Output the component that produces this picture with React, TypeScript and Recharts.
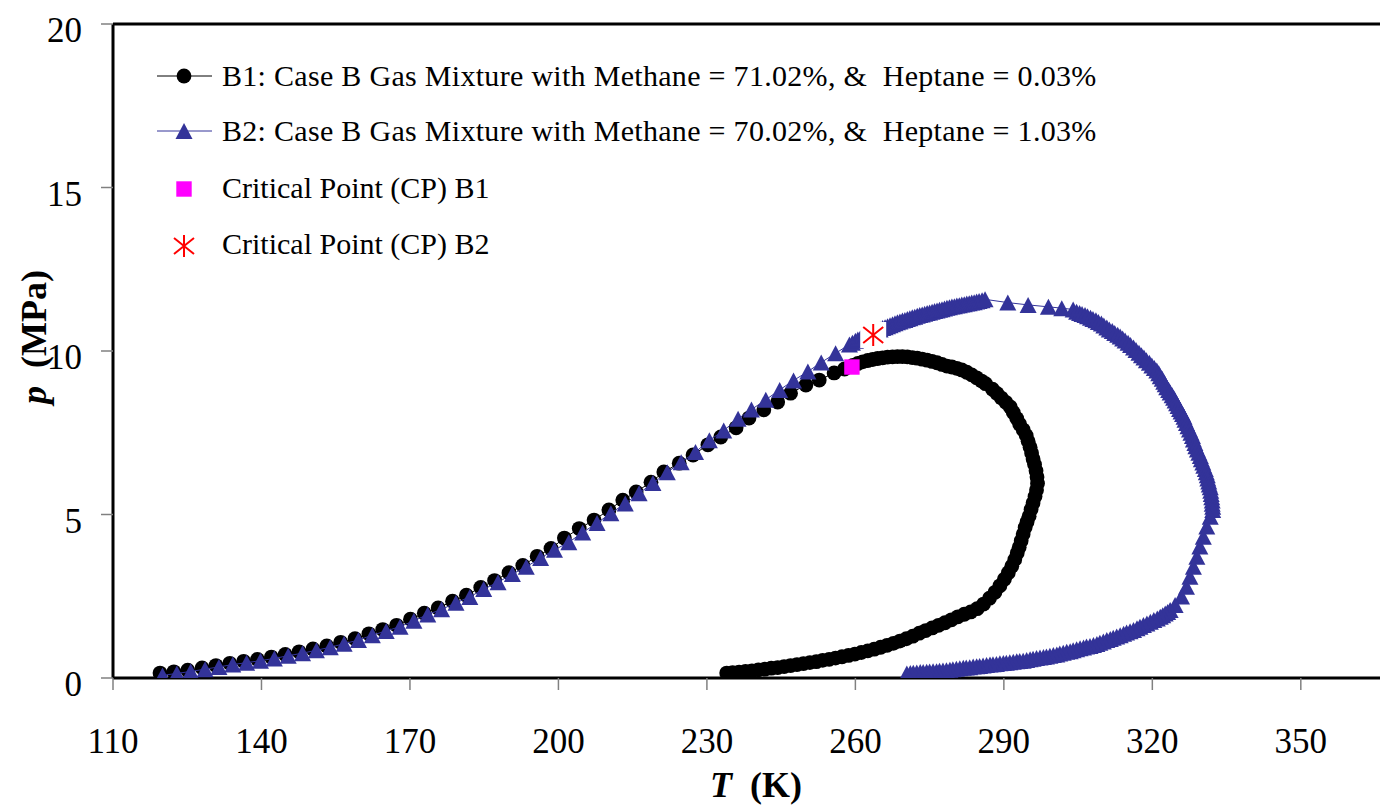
import React from 'react';
import { ScatterChart, Scatter, XAxis, YAxis, ReferenceLine } from 'recharts';

const xTicks = [110, 140, 170, 200, 230, 260, 290, 320, 350];
const yTicks = [0, 5, 10, 15, 20];

// B1: Case B Gas Mixture, Methane = 71.02 %, Heptane = 0.03 %
const b1T = [
  119.5, 122.3, 125.1, 128.0, 130.8, 133.6, 136.4, 139.2, 142.0, 144.8,
  147.6, 150.4, 153.2, 156.0, 158.9, 161.7, 164.5, 167.3, 170.1, 172.9,
  175.7, 178.6, 181.4, 184.3, 187.1, 190.0, 192.8, 195.7, 198.5, 201.2,
  204.2, 207.2, 210.2, 213.0, 215.7, 218.7, 221.3, 224.4, 227.2, 230.2,
  232.8, 235.9, 238.5, 241.5, 244.3, 246.9, 250.0, 252.7, 255.7, 257.8,
  259.5, 260.5, 261.5, 262.5, 263.5, 264.5, 265.5, 266.5, 267.5, 268.5,
  269.5, 270.5, 271.5, 272.5, 273.5, 274.5, 275.5, 276.5, 277.5, 278.5,
  279.5, 280.5, 281.5, 282.5, 283.5, 284.5, 285.5, 286.3, 287.7, 288.6,
  289.5, 290.4, 291.3, 291.9, 292.6, 293.2, 293.9, 294.5, 294.9, 295.3,
  295.6, 295.9, 296.2, 296.5, 296.7, 296.8, 296.6, 296.3, 295.9, 295.5,
  295.1, 294.7, 294.3, 293.9, 293.5, 293.1, 292.7, 292.2, 291.6, 290.9,
  290.1, 289.2, 288.2, 287.1, 285.9, 284.6, 283.3, 282.0, 280.7, 279.4,
  278.1, 276.8, 275.5, 274.2, 272.9, 271.6, 270.3, 269.0, 267.7, 266.4,
  265.1, 263.8, 262.5, 261.2, 259.9, 258.6, 257.3, 256.0, 254.7, 253.4,
  252.1, 250.8, 249.5, 248.2, 246.9, 245.6, 244.3, 243.0, 241.7, 240.4,
  239.1, 237.8, 236.5, 235.2, 234.0,
];
const b1P = [
  0.15, 0.19, 0.24, 0.31, 0.38, 0.45, 0.51, 0.57, 0.64, 0.72,
  0.80, 0.89, 0.98, 1.09, 1.20, 1.35, 1.48, 1.61, 1.80, 1.98,
  2.14, 2.35, 2.53, 2.77, 2.98, 3.22, 3.44, 3.72, 3.96, 4.28,
  4.57, 4.83, 5.14, 5.44, 5.69, 5.99, 6.30, 6.57, 6.82, 7.13,
  7.37, 7.65, 7.95, 8.20, 8.44, 8.71, 8.96, 9.11, 9.33, 9.45,
  9.56, 9.62, 9.67, 9.71, 9.74, 9.77, 9.79, 9.81, 9.82, 9.83,
  9.83, 9.82, 9.80, 9.78, 9.75, 9.72, 9.68, 9.64, 9.59, 9.54,
  9.51, 9.47, 9.42, 9.35, 9.27, 9.18, 9.08, 9.00, 8.83, 8.70,
  8.56, 8.43, 8.29, 8.12, 7.94, 7.76, 7.59, 7.42, 7.24, 7.06,
  6.88, 6.70, 6.53, 6.34, 6.15, 5.95, 5.75, 5.55, 5.35, 5.15,
  4.95, 4.78, 4.60, 4.40, 4.20, 4.00, 3.82, 3.62, 3.42, 3.22,
  3.02, 2.82, 2.62, 2.44, 2.26, 2.12, 2.02, 1.95, 1.87, 1.78,
  1.69, 1.61, 1.53, 1.45, 1.37, 1.28, 1.20, 1.13, 1.06, 1.00,
  0.94, 0.88, 0.83, 0.78, 0.73, 0.69, 0.65, 0.61, 0.57, 0.54,
  0.50, 0.47, 0.44, 0.41, 0.38, 0.35, 0.32, 0.30, 0.27, 0.25,
  0.22, 0.20, 0.18, 0.16, 0.15,
];

// B2: Case B Gas Mixture, Methane = 70.02 %, Heptane = 1.03 %
const b2T = [
  // bubble side
  120.0, 122.9, 125.7, 128.6, 131.4, 134.2, 137.0, 139.8, 142.6, 145.4,
  148.3, 151.1, 153.9, 156.7, 159.6, 162.4, 165.2, 168.0, 170.8, 173.6,
  176.4, 179.3, 182.1, 184.9, 187.8, 190.7, 193.5, 196.4, 199.2, 202.1,
  204.9, 207.8, 210.6, 213.5, 216.3, 219.1, 222.0, 224.8, 227.7, 230.5,
  233.4, 236.3, 239.0, 241.9, 244.7, 247.5, 250.4, 253.1, 256.0, 258.8,
  // top band
  259.4, 260.0, 260.5, 261.0, 261.5, 262.0, 262.5, 263.0, 263.5, 264.0,
  264.5, 265.0, 265.5, 266.0, 266.5, 267.0, 267.5, 268.0, 268.5, 269.0,
  269.5, 270.0, 270.5, 271.0, 271.5, 272.0, 272.5, 273.0, 273.5, 274.0,
  274.5, 275.0, 275.5, 276.0, 276.5, 277.0, 277.5, 278.0, 278.5, 279.0,
  279.5, 280.0, 280.5, 281.0, 281.5, 282.0, 282.5, 283.0, 283.5, 284.0,
  284.5, 285.0, 285.6, 286.2,
  // sparse top
  290.8, 294.9, 299.0, 301.7, 304.0,
  // right arc
  304.7, 305.3, 305.8, 306.4, 306.9, 307.5, 308.0, 308.6, 309.1, 309.7,
  310.2, 310.8, 311.3, 311.9, 312.4, 313.0, 313.5, 314.0, 314.5, 315.1,
  315.6, 316.2, 316.7, 317.3, 317.8, 318.3, 318.8, 319.4, 319.9, 320.4,
  320.9, 321.3, 321.6, 322.0, 322.3, 322.6, 322.9, 323.3, 323.6, 324.0,
  324.3, 324.6, 324.9, 325.2, 325.5, 325.8, 326.1, 326.4, 326.6, 326.9,
  327.2, 327.5, 327.8, 328.1, 328.3, 328.6, 328.8, 329.1, 329.4, 329.7,
  329.9, 330.2, 330.4, 330.7, 330.9, 331.1, 331.2, 331.4, 331.5, 331.7,
  331.8, 331.9, 332.0, 332.1, 332.1, 332.2, 332.2,
  // lower right, sparse
  331.7, 331.0, 330.3, 329.6, 329.0, 328.3, 327.6, 326.9, 325.9, 324.6,
  // bottom band
  323.6, 323.1, 322.6, 322.1, 321.6, 321.0, 320.3, 319.6, 318.9, 318.2,
  317.5, 316.9, 316.2, 315.5, 314.8, 314.2, 313.5, 312.8, 312.1, 311.5,
  310.8, 310.1, 309.4, 308.8, 308.1, 307.4, 306.7, 306.1, 305.4, 304.7,
  304.0, 303.4, 302.7, 302.0, 301.3, 300.7, 300.0, 299.3, 298.6, 298.0,
  297.3, 296.6, 295.9, 295.3, 294.6, 293.9, 293.2, 292.6, 291.9, 291.2,
  290.5, 289.9, 289.2, 288.5, 287.8, 287.2, 286.5, 285.8, 285.1, 284.5,
  283.8, 283.1, 282.4, 281.8, 281.1, 280.4, 279.7, 279.1, 278.4, 277.7,
  277.0, 276.4, 275.7, 275.0, 274.4, 273.7, 273.1, 272.4, 271.7, 271.1,
  270.4,
];
const b2P = [
  // bubble side
  0.08, 0.14, 0.20, 0.27, 0.34, 0.41, 0.47, 0.53, 0.60, 0.68,
  0.76, 0.85, 0.94, 1.05, 1.16, 1.31, 1.44, 1.57, 1.75, 1.94,
  2.10, 2.30, 2.48, 2.72, 2.93, 3.18, 3.40, 3.67, 3.92, 4.15,
  4.45, 4.74, 5.04, 5.34, 5.65, 5.96, 6.29, 6.60, 6.91, 7.27,
  7.57, 7.93, 8.21, 8.51, 8.81, 9.10, 9.37, 9.65, 9.93, 10.20,
  // top band
  10.25, 10.31, 10.35, 10.39, 10.43, 10.46, 10.50, 10.53, 10.57, 10.60,
  10.63, 10.66, 10.70, 10.73, 10.76, 10.79, 10.82, 10.85, 10.88, 10.90,
  10.93, 10.95, 10.98, 11.00, 11.03, 11.05, 11.08, 11.10, 11.12, 11.14,
  11.16, 11.18, 11.20, 11.22, 11.24, 11.26, 11.28, 11.30, 11.32, 11.34,
  11.36, 11.37, 11.39, 11.40, 11.42, 11.43, 11.45, 11.46, 11.48, 11.49,
  11.51, 11.53, 11.55, 11.58,
  // sparse top
  11.48, 11.41, 11.35, 11.31, 11.27,
  // right arc
  11.20, 11.16, 11.13, 11.10, 11.06, 11.02, 10.98, 10.94, 10.89, 10.84,
  10.78, 10.72, 10.66, 10.61, 10.55, 10.50, 10.44, 10.38, 10.32, 10.25,
  10.18, 10.11, 10.03, 9.95, 9.87, 9.80, 9.72, 9.64, 9.56, 9.48,
  9.40, 9.32, 9.23, 9.15, 9.06, 8.98, 8.89, 8.81, 8.73, 8.65,
  8.57, 8.49, 8.40, 8.32, 8.23, 8.15, 8.07, 7.99, 7.90, 7.80,
  7.70, 7.60, 7.50, 7.40, 7.29, 7.19, 7.09, 6.99, 6.89, 6.79,
  6.69, 6.59, 6.49, 6.39, 6.29, 6.20, 6.10, 6.01, 5.92, 5.83,
  5.73, 5.63, 5.53, 5.43, 5.33, 5.24, 5.14,
  // lower right, sparse
  4.93, 4.63, 4.32, 4.02, 3.71, 3.40, 3.10, 2.79, 2.49, 2.23,
  // bottom band
  2.08, 2.02, 1.97, 1.92, 1.87, 1.82, 1.77, 1.72, 1.67, 1.62,
  1.57, 1.52, 1.47, 1.43, 1.39, 1.35, 1.31, 1.27, 1.23, 1.19,
  1.16, 1.12, 1.08, 1.04, 1.01, 0.98, 0.96, 0.93, 0.91, 0.88,
  0.85, 0.82, 0.80, 0.77, 0.75, 0.72, 0.70, 0.68, 0.66, 0.64,
  0.63, 0.61, 0.59, 0.57, 0.55, 0.53, 0.52, 0.51, 0.50, 0.48,
  0.47, 0.46, 0.45, 0.43, 0.42, 0.41, 0.40, 0.38, 0.37, 0.36,
  0.35, 0.33, 0.32, 0.31, 0.30, 0.28, 0.27, 0.25, 0.24, 0.23,
  0.22, 0.21, 0.21, 0.20, 0.19, 0.18, 0.18, 0.17, 0.16, 0.15,
  0.14,
];

const cpB1T = [259.3];
const cpB1P = [9.51];
const cpB2T = [263.6];
const cpB2P = [10.49];

const legendLabels = [
  'B1: Case B Gas Mixture with Methane = 71.02%, &  Heptane = 0.03%',
  'B2: Case B Gas Mixture with Methane = 70.02%, &  Heptane = 1.03%',
  'Critical Point (CP) B1',
  'Critical Point (CP) B2',
];

const BLUE = '#333399';
const FONT = '"Liberation Serif", "Times New Roman", serif';

const zip = (t: number[], p: number[]) => t.map((T, i) => ({ T, p: p[i] }));
const b1Data = zip(b1T, b1P);
const b2Data = zip(b2T, b2P);
const cpB1Data = zip(cpB1T, cpB1P);
const cpB2Data = zip(cpB2T, cpB2P);

const circlePath = (cx: number, cy: number) => <circle cx={cx} cy={cy} r={7.4} fill="#000" />;
const triPath = (cx: number, cy: number) => (
  <path d={`M${cx},${cy - 8}L${cx + 8.5},${cy + 8}L${cx - 8.5},${cy + 8}Z`} fill={BLUE} />
);
const squarePath = (cx: number, cy: number) => (
  <rect x={cx - 7.7} y={cy - 7.7} width={15.4} height={15.4} fill="#FF00FF" />
);
const starPath = (cx: number, cy: number, box: boolean) => (
  <g>
    {box && <rect x={cx - 13} y={cy - 13} width={26} height={26} fill="#fff" />}
    <path
      d={`M${cx},${cy - 11}L${cx},${cy + 11}M${cx - 10},${cy - 8}L${cx + 10},${cy + 8}M${cx - 10},${cy + 8}L${cx + 10},${cy - 8}`}
      stroke="#FF0000"
      strokeWidth={2}
      fill="none"
    />
  </g>
);

const CircleShape = (props: any) => circlePath(props.cx, props.cy);
const TriShape = (props: any) => triPath(props.cx, props.cy);
const SquareShape = (props: any) => squarePath(props.cx, props.cy);
const StarShape = (props: any) => starPath(props.cx, props.cy, true);

const YTick = (props: any) => (
  <text x={props.x} y={props.y + 18} textAnchor="end" fontSize={35} fontFamily={FONT} fill="#000">
    {props.payload.value}
  </text>
);
const XTick = (props: any) => (
  <text x={props.x} y={props.y} textAnchor="middle" fontSize={35} fontFamily={FONT} fill="#000">
    {props.payload.value}
  </text>
);

const rows = [76, 131, 189, 246];
const baselines = [86, 141, 197.5, 254];

export default function App() {
  return (
    <div style={{ position: 'absolute', left: 0, top: 0, width: 1380, height: 807, overflow: 'hidden', background: '#fff', fontFamily: FONT }}>
      <ScatterChart width={1380} height={807} margin={{ top: 24, right: 0, bottom: 0, left: 0 }}>
        <XAxis
          type="number"
          dataKey="T"
          domain={[110, 366]}
          ticks={xTicks}
          interval={0}
          allowDataOverflow
          height={129}
          tickSize={12}
          tickMargin={63}
          tickLine={{ stroke: '#808080', strokeWidth: 1.5 }}
          axisLine={{ stroke: '#000', strokeWidth: 3 }}
          tick={XTick}
        />
        <YAxis
          type="number"
          dataKey="p"
          domain={[0, 20]}
          ticks={yTicks}
          interval={0}
          allowDataOverflow
          width={113}
          tickSize={12}
          tickMargin={19}
          tickLine={{ stroke: '#808080', strokeWidth: 1.5 }}
          axisLine={{ stroke: '#000', strokeWidth: 3 }}
          tick={YTick}
        />
        <ReferenceLine y={20} stroke="#000" strokeWidth={3} />
        <Scatter
          name={legendLabels[0]}
          data={b1Data}
          line={{ stroke: '#000', strokeWidth: 1 }}
          lineType="joint"
          shape={CircleShape}
          isAnimationActive={false}
        />
        <Scatter
          name={legendLabels[1]}
          data={b2Data}
          line={{ stroke: BLUE, strokeWidth: 1 }}
          lineType="joint"
          shape={TriShape}
          isAnimationActive={false}
        />
        <Scatter name={legendLabels[2]} data={cpB1Data} shape={SquareShape} isAnimationActive={false} />
        <Scatter name={legendLabels[3]} data={cpB2Data} shape={StarShape} isAnimationActive={false} />
      </ScatterChart>
      <svg width={1380} height={807} style={{ position: 'absolute', left: 0, top: 0, pointerEvents: 'none' }}>
        <line x1={157} x2={212} y1={rows[0]} y2={rows[0]} stroke="#000" strokeWidth={1} />
        {circlePath(184, rows[0])}
        <line x1={157} x2={212} y1={rows[1]} y2={rows[1]} stroke={BLUE} strokeWidth={1} />
        {triPath(184, rows[1])}
        {squarePath(184, rows[2])}
        {starPath(184, rows[3], false)}
        {legendLabels.map((l, i) => (
          <text
            key={i}
            x={222}
            y={baselines[i]}
            fontSize={30}
            fontFamily={FONT}
            fill="#000"
            letterSpacing={i < 2 ? 0.3 : 0}
            style={{ whiteSpace: 'pre' }}
          >
            {l}
          </text>
        ))}
        <text x={756} y={797} textAnchor="middle" fontSize={36} fontFamily={FONT} fontWeight="bold" fill="#000" style={{ whiteSpace: 'pre' }}>
          <tspan fontStyle="italic">T</tspan>
          <tspan>{'  (K)'}</tspan>
        </text>
        <text
          x={0}
          y={0}
          transform="translate(46,337) rotate(-90)"
          textAnchor="middle"
          fontSize={36}
          fontFamily={FONT}
          fontWeight="bold"
          fill="#000"
          style={{ whiteSpace: 'pre' }}
        >
          <tspan fontStyle="italic">p</tspan>
          <tspan>{'  (MPa)'}</tspan>
        </text>
      </svg>
    </div>
  );
}
